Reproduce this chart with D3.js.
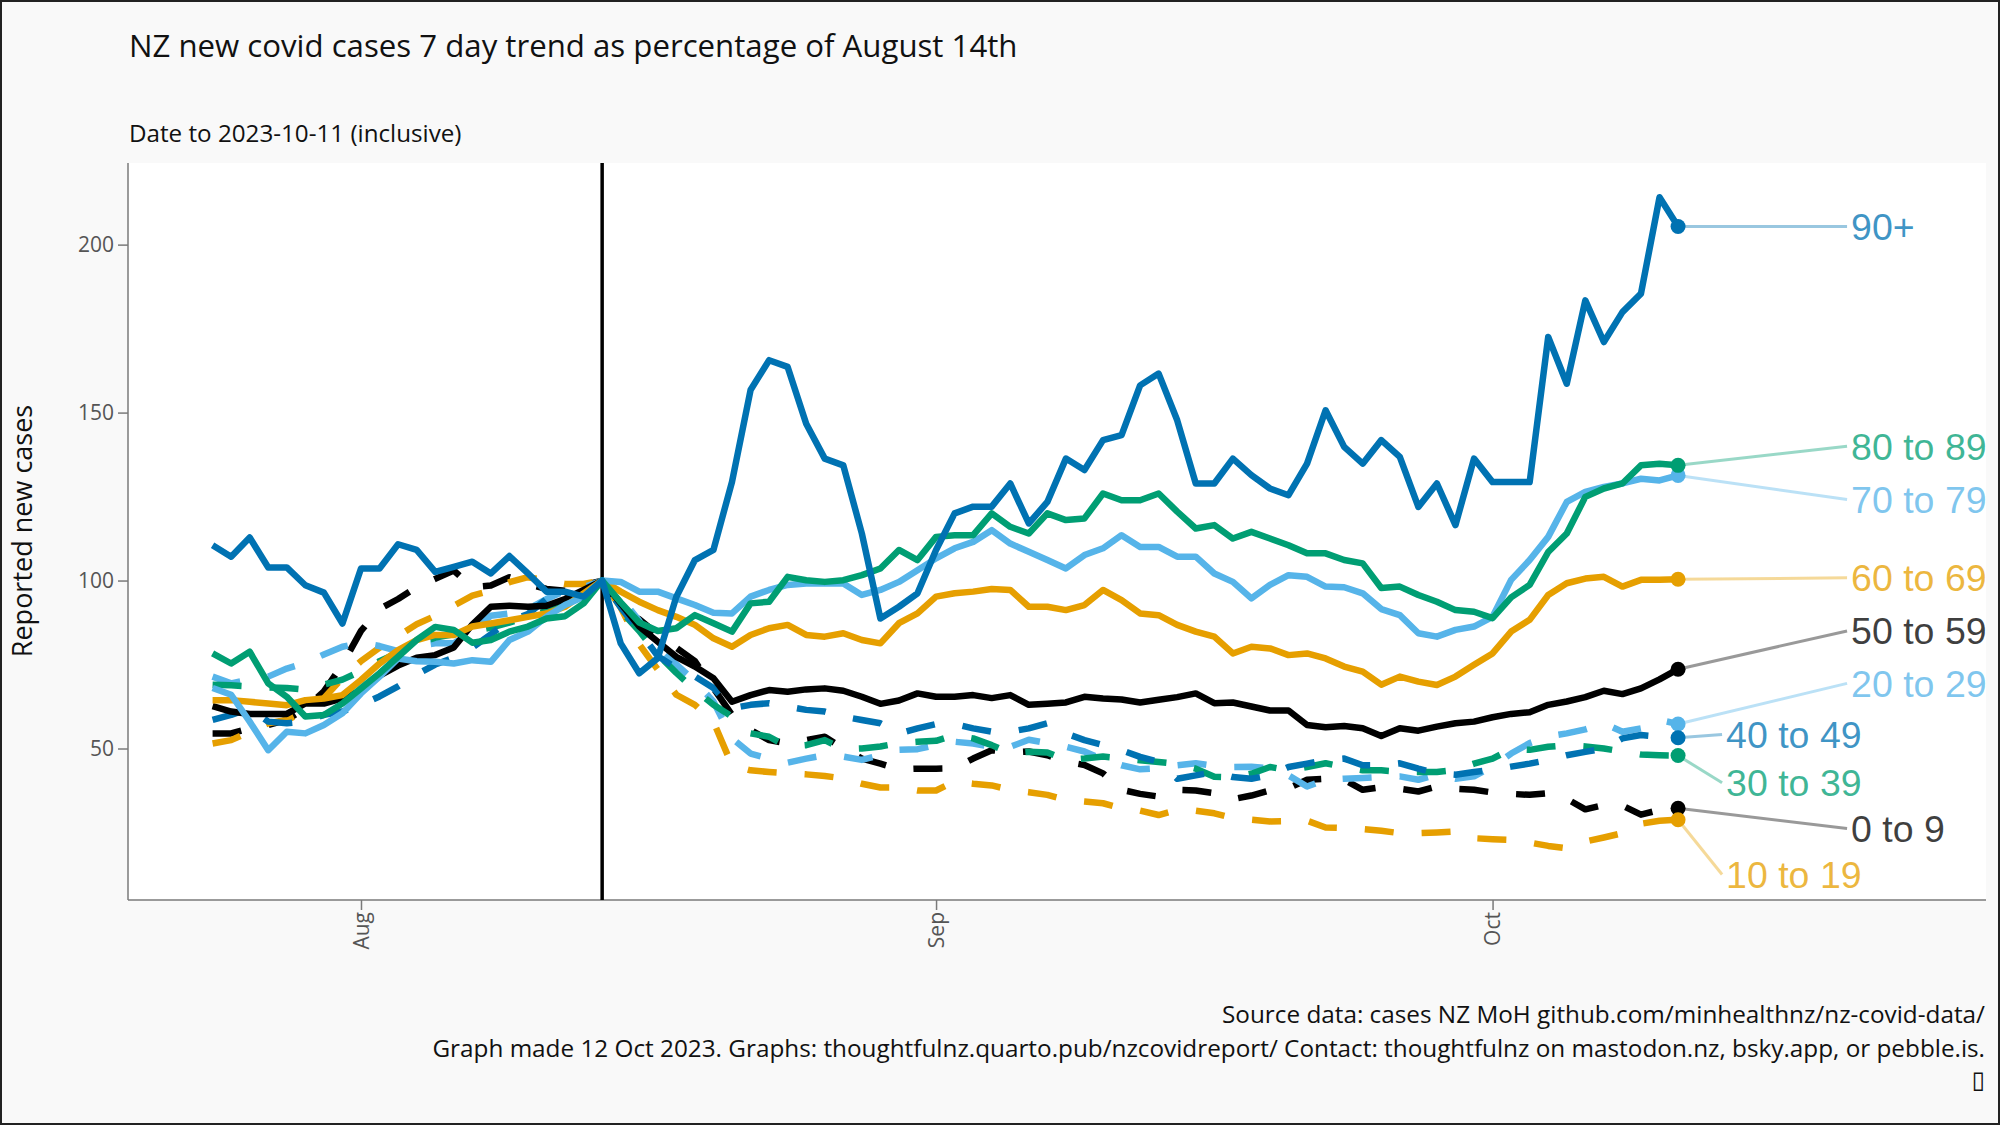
<!DOCTYPE html>
<html><head><meta charset="utf-8">
<script src="https://cdn.jsdelivr.net/npm/d3@7"></script>
<style>body{margin:0;background:#f9f9f9} svg{display:block}</style>
</head><body>
<svg id="chart" width="2000" height="1125"></svg>
<script>
// ---------------- DATA ----------------
const startDate = "2023-07-24";   // first daily value
const endDate = "2023-10-11";     // last daily value (inclusive)
const refDate = "2023-08-14";     // reference day (=100)
const groups = ["0 to 9","10 to 19","20 to 29","30 to 39","40 to 49","50 to 59","60 to 69","70 to 79","80 to 89","90+"];

const age0to9 = [54.5,54.5,56,57,58.5,62,67,75,85,91.5,94.5,98,100.5,103,98,98.5,101,99,97.5,97,98.5,100,
 91,88.5,84,80,76,68,60,55.5,52.5,51.5,52.5,53.5,50,47,45.5,43.8,44,44,44.1,47,49.5,
 48.8,49.1,48,46.1,45.1,42.6,37.7,36.5,35.7,37.7,37.5,36.7,34.9,36,37.5,38.2,40.7,41,40.7,37.7,38.5,
 38,37.2,38.7,38,37.7,36.9,36.5,36.2,36.7,35,31.9,33.2,33,30.3,31.7,32.2];
const age10to19 = [51.5,52.5,55,57.5,58.5,61,65,71,76,80,83.5,87,89.5,92.5,95.5,97,99.5,101,100,99,99,100,
 92,81,73.5,66,63,58,45,43.5,43,42.6,42.3,41.8,41.1,39.5,38.4,38.4,37.5,37.5,40.2,39.5,39,
 37.7,37,36.2,34.7,34.2,33.7,32.2,31.5,30.2,31.7,31.5,30.7,29.3,28.8,28.3,28.4,28.5,26.5,26.3,26,25.5,
 24.8,24.8,25,25.3,23.3,23,22.8,22,21,20.3,22.3,23.5,24.8,27.6,28.5,28.8];
const age20to29 = [71.4,69.4,70.5,71.4,73.8,75.5,78,80.3,81.5,80.5,79,80.5,81.3,81.3,85,89.5,90.2,91.5,94.5,97,98,100,
 95,88,80,75,70,64,53,48.5,47,45.8,47,48,47.6,46.6,48,49.6,49.8,51,52,51.5,50.5,
 50.5,52.6,51.6,50.5,49.1,46.8,45,43.8,44.1,45,45.6,44.8,44.5,44.6,44.1,42,38.7,40.7,41,41.2,41.5,
 41.7,40.7,42.2,41,41.7,44.6,48.5,51.6,53.6,54.5,55.7,57.5,55,56,58.5,57.3];
const age30to39 = [69,68.8,68.5,68.2,68,67.5,69,70.5,73,76,78.5,81,83,84,85,86,87.5,89,91,93,95.5,100,
 91,85,78,72.5,67.5,63,59.5,54.5,53.5,50.5,51,52.5,49.8,50,50.6,51.6,52,52.3,54,53,51,
 48.6,49,48.8,46.6,47,47.6,47.1,46.5,46,45.4,44,41.6,41.4,42.5,44.5,43.5,44.5,45.6,44.5,43.5,43.5,
 43.1,43,43,43.6,45.5,47,49.8,49.6,50.5,51,50.6,50,49.1,48.2,48,47.9];
const age40to49 = [58.5,60,62,58,57.5,58,60,61,63,65.5,68.5,72,75,77,80,84,88,90,94.5,95.5,96,100,
 92,85,77.5,74,71.5,68,62,63,63.5,62.5,61.5,61,59.5,58.5,57.5,54.5,56,57.3,57.3,56,55,
 55,56,57.5,54.5,52.5,51,49.5,47.5,46,41,42,43,41.5,41,42,44.5,45.5,46.6,47,45,45,
 45.6,44,42.6,42.2,43,43.6,44.6,45.5,46.6,48,49,50,53,54,53.5,53.2];
const age50to59 = [62.6,61,60.3,60.3,60.3,63.4,63.4,64.9,67.2,71.7,74.7,77,77.8,80.1,86.9,92.2,92.5,92.2,92.5,94.5,97.2,100,
 93.2,86.3,81.8,77.3,74.4,70.9,63.9,65.9,67.4,66.9,67.6,67.9,67.2,65.4,63.3,64.3,66.4,65.4,65.4,65.9,65,
 65.9,63,63.3,63.7,65.4,64.9,64.6,63.7,64.5,65.3,66.4,63.5,63.7,62.5,61.3,61.3,57,56.3,56.7,56,53.7,
 56,55.3,56.5,57.5,58,59.3,60.3,60.8,63,64,65.3,67.2,66.2,67.9,70.6,73.6];
const age60to69 = [64.4,64.4,63.9,63.4,62.9,64.4,64.9,65.9,70.4,75.3,79.3,82.3,83.8,83.8,86.3,87.2,88.2,89.2,90.2,92.2,96.2,100,
 96.7,93.7,91.2,89.2,86.8,82.8,80.3,83.8,85.8,86.8,83.8,83.3,84.3,82.3,81.3,87.3,90.2,95.2,96.2,96.7,97.5,
 97.2,92.2,92.2,91.2,92.7,97.2,94.2,90.2,89.7,86.8,84.8,83.3,78.3,80.3,79.8,77.8,78.3,76.8,74.4,72.9,69,
 71.4,69.9,68.9,71.4,74.9,78.3,84.8,88.3,95.7,99.2,100.6,101.1,98.2,100.2,100.2,100.4];
const age70to79 = [68,66,58,49.5,55,54.5,57,60.5,66.4,71.4,76.8,76,75.8,75.3,76.3,75.8,82.3,84.8,89.2,92.7,95.2,100,
 99.6,96.7,96.7,94.7,92.7,90.4,90.2,95.2,97.2,98.7,99.1,99.1,99.1,95.7,97.2,99.6,103.1,106.6,109.6,111.5,115,
 111,108.6,106.1,103.6,107.6,109.6,113.5,110,110,107.1,107.1,102.1,99.6,94.7,98.7,101.6,101.1,98.2,98,96.2,91.5,
 89.7,84.3,83.3,85.3,86.3,89.2,100.2,106.1,113,123.4,126.4,127.9,128.9,130.3,129.8,131.3];
const age80to89 = [78.3,75.3,78.8,69.4,65.4,59.5,60,63.4,67.9,72.4,77.3,82.3,86.2,85.3,81.5,82.3,84.8,86.3,88.7,89.4,93.2,100,
 93.5,87.5,85,85.8,89.7,87.3,84.8,93.2,93.7,101.1,100.1,99.6,100.1,101.6,103.6,109.1,106.1,113,113.5,113.5,120,
 116,114,120,118,118.5,125.9,123.9,123.9,125.9,120.5,115.5,116.5,112.5,114.5,112.5,110.5,108.1,108.1,106.1,105.1,97.8,
 98.2,95.7,93.7,91.2,90.7,88.8,95,98.7,108.5,114,124.9,127.4,128.9,134.3,134.8,134.3];
const age90plus = [110.5,107.1,112.8,103.9,103.9,98.6,96.4,87.2,103.6,103.6,110.8,109.1,102.6,104.1,105.6,102.1,107.3,102.1,96.7,96.7,95.2,100,
 81.3,72.4,76.9,95.2,106.1,109.1,129.4,156.7,165.6,163.6,146.7,136.3,134.3,114,88.7,92.2,96.2,109.1,120,122,122,
 128.9,117,123.4,136.3,132.9,141.8,143.3,158.1,161.6,147.7,128.9,128.9,136.3,131.4,127.4,125.4,134.8,150.7,139.8,134.8,141.8,
 136.8,121.9,128.9,116.5,136.3,129.3,129.3,129.3,172.5,158.6,183.4,171,179.9,185.4,214.1,205.4];

const seriesValues = [age0to9, age10to19, age20to29, age30to39, age40to49, age50to59, age60to69, age70to79, age80to89, age90plus];

const yTickValues = [50, 100, 150, 200];
const xTickDates = ["2023-08-01", "2023-09-01", "2023-10-01"];
const xTickLabels = ["Aug", "Sep", "Oct"];

const titleText = "NZ new covid cases 7 day trend as percentage of August 14th";
const subtitleText = "Date to 2023-10-11 (inclusive)";
const yTitleText = "Reported new cases";
const captionLines = ["Source data: cases NZ MoH github.com/minhealthnz/nz-covid-data/",
  "Graph made 12 Oct 2023. Graphs: thoughtfulnz.quarto.pub/nzcovidreport/ Contact: thoughtfulnz on mastodon.nz, bsky.app, or pebble.is.",
  "\u25AF"];

// ---------------- STYLE / LAYOUT ----------------
const groupStyle = {
  "0 to 9":   {color:"#000000", dash:true},
  "10 to 19": {color:"#E69F00", dash:true},
  "20 to 29": {color:"#56B4E9", dash:true},
  "30 to 39": {color:"#009E73", dash:true},
  "40 to 49": {color:"#0072B2", dash:true},
  "50 to 59": {color:"#000000", dash:false},
  "60 to 69": {color:"#E69F00", dash:false},
  "70 to 79": {color:"#56B4E9", dash:false},
  "80 to 89": {color:"#009E73", dash:false},
  "90+":      {color:"#0072B2", dash:false}
};
// label placement (repelled labels): horizontal offset from last point in px, vertical position in data units
const labelLayout = {
  "90+":      {dx:173, v:205.4},
  "80 to 89": {dx:173, v:140.0},
  "70 to 79": {dx:173, v:124.1},
  "60 to 69": {dx:173, v:100.8},
  "50 to 59": {dx:173, v:85.0},
  "20 to 29": {dx:173, v:69.4},
  "40 to 49": {dx:48,  v:54.2},
  "30 to 39": {dx:48,  v:39.8},
  "0 to 9":   {dx:173, v:26.2},
  "10 to 19": {dx:48,  v:12.5}
};

const W = 2000, H = 1125;
const panel = {left:128, right:1986, top:163, bottom:900};
const parse = d3.utcParse("%Y-%m-%d");
const dayMs = 864e5;
const aug1 = parse("2023-08-01");
const x = d3.scaleUtc()
  .domain([new Date(+aug1 - 12.56*dayMs), new Date(+aug1 + 87.6*dayMs)])
  .range([panel.left, panel.right]);
const y = d3.scaleLinear().domain([4.9, 224.3]).range([panel.bottom, panel.top]);

const dates = d3.utcDay.range(parse(startDate), d3.utcDay.offset(parse(endDate), 1));

const svg = d3.select("#chart");
const FONT = "'Open Sans', 'DejaVu Sans', sans-serif";

svg.append("rect").attr("x",0).attr("y",0).attr("width",W).attr("height",H).attr("fill","#f9f9f9");
svg.append("rect").attr("x",panel.left).attr("y",panel.top)
  .attr("width",panel.right-panel.left).attr("height",panel.bottom-panel.top).attr("fill","#ffffff");

// titles
svg.append("text").attr("x",129).attr("y",57).attr("font-family",FONT).attr("font-size",31.2)
  .attr("fill","#111").text(titleText);
svg.append("text").attr("x",129).attr("y",142).attr("font-family",FONT).attr("font-size",24.2)
  .attr("fill","#111").text(subtitleText);
svg.append("text").attr("transform","translate(32,531) rotate(-90)").attr("text-anchor","middle")
  .attr("font-family",FONT).attr("font-size",27).attr("fill","#111").text(yTitleText);

// axes
const yAxis = d3.axisLeft(y).tickValues(yTickValues).tickSize(10).tickPadding(4);
const gy = svg.append("g").attr("transform",`translate(${panel.left},0)`).call(yAxis);
gy.select(".domain").remove();
gy.selectAll(".tick line").attr("stroke","#7a7a7a").attr("stroke-width",1.5);
gy.selectAll(".tick text").attr("font-family",FONT).attr("font-size",21).attr("fill","#555");

const xAxis = d3.axisBottom(x).tickValues(xTickDates.map(parse))
  .tickFormat((d,i)=>xTickLabels[i]).tickSize(10).tickPadding(0);
const gx = svg.append("g").attr("transform",`translate(0,${panel.bottom})`).call(xAxis);
gx.select(".domain").remove();
gx.selectAll(".tick line").attr("stroke","#7a7a7a").attr("stroke-width",1.5);
gx.selectAll(".tick text").attr("font-family",FONT).attr("font-size",21).attr("fill","#555")
  .attr("text-anchor","end").attr("transform","translate(0,12) rotate(-90)")
  .attr("x",0).attr("y",0).attr("dy","0.35em");

svg.append("line").attr("x1",panel.left).attr("x2",panel.left).attr("y1",panel.top).attr("y2",panel.bottom)
  .attr("stroke","#7a7a7a").attr("stroke-width",1.5);
svg.append("line").attr("x1",panel.left).attr("x2",panel.right).attr("y1",panel.bottom).attr("y2",panel.bottom)
  .attr("stroke","#7a7a7a").attr("stroke-width",1.5);

// reference vertical line
svg.append("line").attr("x1",x(parse(refDate))).attr("x2",x(parse(refDate)))
  .attr("y1",panel.top).attr("y2",panel.bottom).attr("stroke","#000").attr("stroke-width",3.5);

// lines
const line = d3.line().x(d=>x(d.date)).y(d=>y(d.v)).curve(d3.curveLinear);
const series = groups.map((g,gi)=>({key:g, values: seriesValues[gi].map((v,i)=>({date:dates[i], v}))}));

const gLines = svg.append("g");
series.forEach(s=>{
  const st = groupStyle[s.key];
  gLines.append("path").datum(s.values).attr("d",line)
    .attr("fill","none").attr("stroke",st.color).attr("stroke-width",6.5)
    .attr("stroke-linejoin","round").attr("stroke-linecap","butt")
    .attr("stroke-dasharray", st.dash ? "29,28" : null);
});

// connectors + labels
const LFONT = "'Liberation Sans', Arial, Helvetica, sans-serif";
series.forEach(s=>{
  const st = groupStyle[s.key];
  const last = s.values[s.values.length-1];
  const px = x(last.date), py = y(last.v);
  const L = labelLayout[s.key];
  const lx = px + L.dx, ly = y(L.v);
  svg.append("line").attr("x1",px).attr("y1",py).attr("x2",lx-4).attr("y2",ly)
    .attr("stroke",st.color).attr("stroke-opacity",0.4).attr("stroke-width",3);
  svg.append("text").attr("x",lx).attr("y",ly).attr("dy","0.36em")
    .attr("font-family",LFONT).attr("font-size",37.5)
    .attr("fill",st.color).attr("fill-opacity",0.75).text(s.key);
});
series.forEach(s=>{
  const st = groupStyle[s.key];
  const last = s.values[s.values.length-1];
  svg.append("circle").attr("cx",x(last.date)).attr("cy",y(last.v)).attr("r",7.5).attr("fill",st.color);
});

// captions
const capY = [1023, 1057, 1088];
captionLines.forEach((t,i)=>{
  svg.append("text").attr("x",1985).attr("y",capY[i]).attr("text-anchor","end")
    .attr("font-family", i===2 ? "'DejaVu Sans', sans-serif" : FONT).attr("font-size",24.3)
    .attr("fill","#111").text(t);
});

// outer border
svg.append("rect").attr("x",1).attr("y",1).attr("width",W-2).attr("height",H-2)
  .attr("fill","none").attr("stroke","#222").attr("stroke-width",2);
</script>
</body></html>
